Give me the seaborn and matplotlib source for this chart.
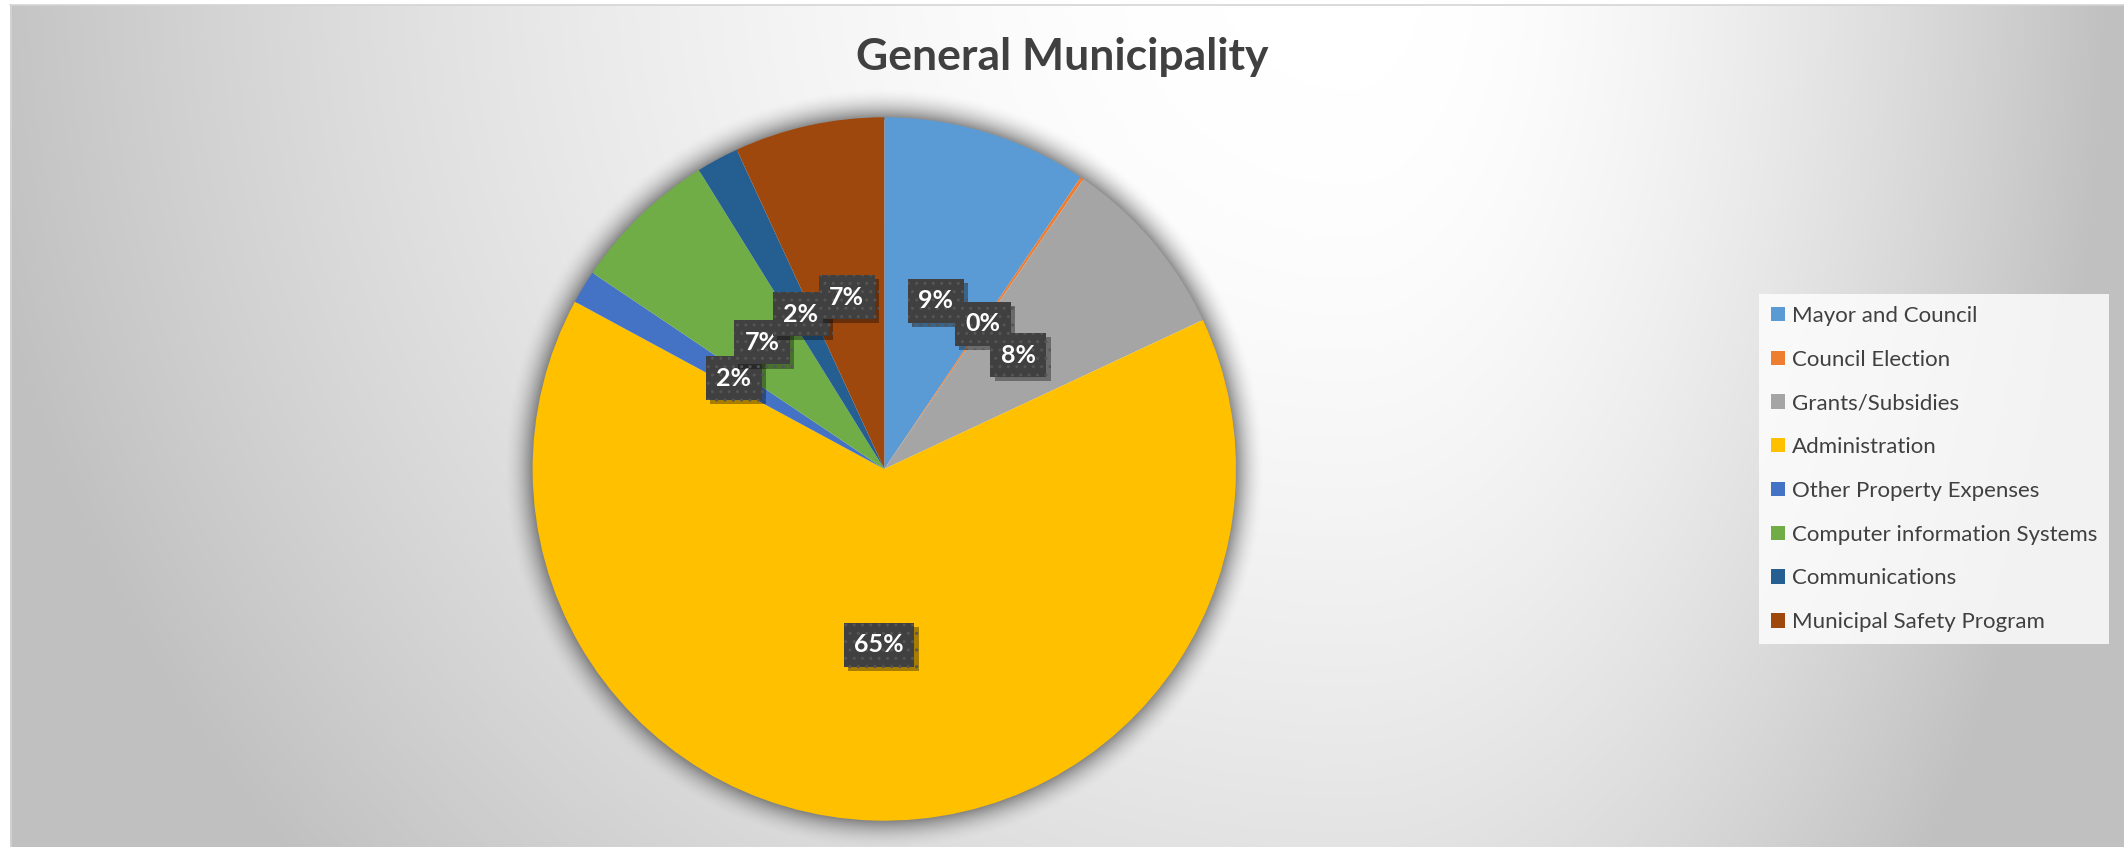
import numpy as np
import matplotlib
matplotlib.use("Agg")
import matplotlib.pyplot as plt
import matplotlib.patches as mpatches
import matplotlib.patheffects as pe
import seaborn as sns

# ---- data -------------------------------------------------------------
categories = [
    "Mayor and Council",
    "Council Election",
    "Grants/Subsidies",
    "Administration",
    "Other Property Expenses",
    "Computer information Systems",
    "Communications",
    "Municipal Safety Program",
]
shares = [9.43, 0.15, 8.46, 64.85, 1.53, 6.74, 1.95, 6.89]
slice_colors = ["#5B9BD5", "#ED7D31", "#A5A5A5", "#FFC000",
                "#4472C4", "#70AD47", "#255E91", "#9E480E"]
title_text = "General Municipality"

# ---- style ------------------------------------------------------------
sns.set_theme(style="white")
plt.rcParams["font.family"] = ["Lato", "DejaVu Sans"]
palette = sns.color_palette(slice_colors)

W, H = 2124, 847
fig = plt.figure(figsize=(W / 100, H / 100), dpi=100)
fig.patch.set_facecolor("white")

# ---- gradient chart-area background ------------------------------------
bg = fig.add_axes([0, 0, 1, 1], zorder=0)
yy, xx = np.mgrid[0:H, 0:W].astype(float)
gx, gy = 1350.0, -50.0
rx = np.where(xx < gx, 1400.0, 760.0)
ry = 1400.0
t = np.sqrt(((xx - gx) / rx) ** 2 + ((yy - gy) / ry) ** 2)
s = np.clip((t - 0.1) / 0.9, 0, 1) ** 1.6
v = (255 - 63 * s) / 255.0
img = np.dstack([v, v, v])
img[:5, :, :] = 1.0
img[:, :10, :] = 1.0
bg.imshow(img, extent=[0, W, H, 0], aspect="auto", interpolation="bilinear")
bg.plot([10, W], [5.5, 5.5], color="#d4d4d4", lw=1.2)
bg.plot([10.5, 10.5], [5, H], color="#d4d4d4", lw=1.2)
bg.set_xlim(0, W)
bg.set_ylim(H, 0)
bg.axis("off")

# ---- pie ----------------------------------------------------------------
cx, cy, R = 884.3, 469.0, 351.7
L = 1.2
ax = fig.add_axes([(cx - L * R) / W, (H - cy - L * R) / H,
                   2 * L * R / W, 2 * L * R / H], zorder=1)
ax.patch.set_alpha(0)

# soft shadow around the pie
g = np.linspace(-L, L, 900)
X, Y = np.meshgrid(g, g)
d = (np.sqrt(X ** 2 + Y ** 2) - 1.0) * R
alpha = 0.42 * np.clip(1 - d / 30.0, 0, 1) ** 2
alpha[d < -3] = 0
shadow = np.zeros((900, 900, 4))
shadow[..., 3] = alpha
ax.imshow(shadow, extent=[-L, L, -L, L], origin="lower", zorder=0,
          interpolation="bilinear")

wedges, texts, autotexts = ax.pie(
    shares,
    colors=palette,
    startangle=90,
    counterclock=False,
    radius=1.0,
    autopct=lambda p: f"{p:.0f}%",
    pctdistance=0.5,
    wedgeprops=dict(linewidth=0),
    textprops=dict(color="white", fontsize=18, fontweight="bold"),
)
for w in wedges:
    w.set_zorder(2)

for at in autotexts:
    at.set_zorder(5)
    at.set_bbox(dict(boxstyle="square,pad=0.42", facecolor="#404040",
                     edgecolor="#555555", linewidth=0, hatch=".."))
    at.get_bbox_patch().set_path_effects([
        pe.SimplePatchShadow(offset=(3, -3), shadow_rgbFace="black", alpha=0.35),
        pe.Normal(),
    ])

ax.set_xlim(-L, L)
ax.set_ylim(-L, L)
ax.set_aspect("equal")
ax.axis("off")

# ---- title --------------------------------------------------------------
fig.text(0.5, 1 - 57 / H, title_text, ha="center", va="center",
         fontsize=32, fontweight="bold", color="#404040")

# ---- legend -------------------------------------------------------------
handles = [mpatches.Patch(facecolor=c, edgecolor="none") for c in palette]
leg = fig.legend(
    handles, categories,
    loc="center left", bbox_to_anchor=(1759 / W, 1 - 469 / H),
    frameon=True, fancybox=False, fontsize=16,
    handlelength=0.62, handleheight=0.62, handletextpad=0.3,
    labelspacing=1.07, borderpad=0.55, borderaxespad=0,
)
leg.set_zorder(6)
frame = leg.get_frame()
frame.set_facecolor((1, 1, 1, 0.3))
frame.set_edgecolor("none")
frame.set_linewidth(0)
for txt in leg.get_texts():
    txt.set_color("#404040")

fig.savefig("out.png", dpi=100)
